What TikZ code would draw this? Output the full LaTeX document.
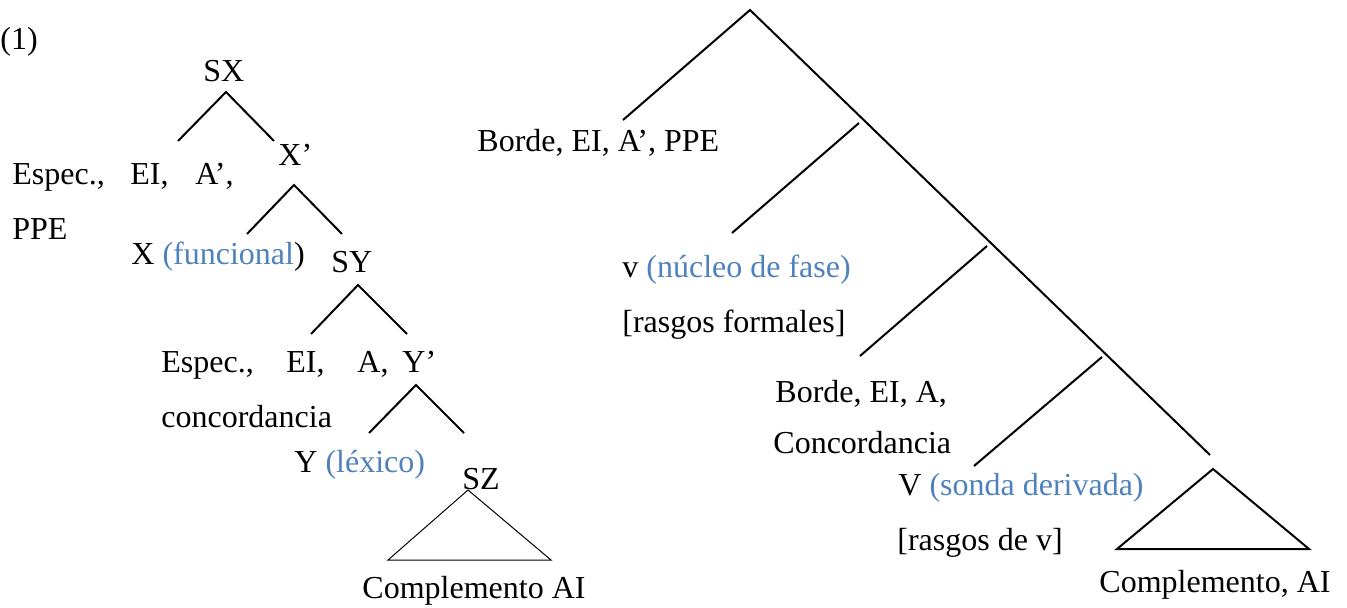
\documentclass[tikz,border=0pt]{standalone}
\usepackage{fontspec}
\setmainfont{Liberation Serif}
\usepackage{xcolor}
\definecolor{nucleo}{RGB}{79,129,189}

\begin{document}
\begin{tikzpicture}[x=0.5pt, y=-0.5pt,
		lbl/.style = {anchor = base west, inner sep = 0pt, font = \fontsize{16}{19}\selectfont},
		rama/.style = {line width = 1pt},
		hoja/.style = {line width = 0.5pt}]
	\useasboundingbox (0,0) rectangle (1347,608);

	\node[lbl] (ej) at (0,50) {(1)};

	% arbol de la izquierda
	\node[lbl] (sx) at (203,82) {SX};
	\node[lbl] (xbar) at (278,166) {X’};
	\node[lbl] (espx) at (12,185) {Espec.,};
	\node[lbl] (eix) at (130,185) {EI,};
	\node[lbl] (ax) at (195,185) {A’,};
	\node[lbl] (ppe) at (12,240) {PPE};
	\node[lbl] (xfun) at (131,265) {X \textcolor{nucleo}{(funcional})};
	\node[lbl] (sy) at (331,273) {SY};
	\node[lbl] (espy) at (161,373) {Espec.,};
	\node[lbl] (eiy) at (286,373) {EI,};
	\node[lbl] (ay) at (357,373) {A,};
	\node[lbl] (ybar) at (402,373) {Y’};
	\node[lbl] (conc) at (161,428) {concordancia};
	\node[lbl] (ylex) at (294,472) {Y \textcolor{nucleo}{(léxico)}};
	\node[lbl] (sz) at (462,489) {SZ};
	\node[lbl] (compl) at (362,598) {Complemento AI};

	\coordinate (sx-t) at (226,92);
	\coordinate (sx-l) at (178,141);
	\coordinate (sx-r) at (274,141);
	\coordinate (xbar-t) at (294,185);
	\coordinate (xbar-l) at (247,234);
	\coordinate (xbar-r) at (342,234);
	\coordinate (sy-t) at (358,285);
	\coordinate (sy-l) at (311,334);
	\coordinate (sy-r) at (407,334);
	\coordinate (ybar-t) at (416,385);
	\coordinate (ybar-l) at (369,433);
	\coordinate (ybar-r) at (464,433);

	\begin{scope}[rama]
		\draw (sx-l) -- (sx-t) -- (sx-r);
		\draw (xbar-l) -- (xbar-t) -- (xbar-r);
		\draw (sy-l) -- (sy-t) -- (sy-r);
		\draw (ybar-l) -- (ybar-t) -- (ybar-r);
	\end{scope}
	\draw[hoja] (468,490) -- (388,560) -- (551,560) -- cycle;

	% arbol de la derecha
	\node[lbl] (borde) at (477,152) {Borde, EI, A’, PPE};
	\node[lbl] (vfase) at (622,278) {v \textcolor{nucleo}{(núcleo de fase)}};
	\node[lbl] (rform) at (622,333) {[rasgos formales]};
	\node[lbl] (bordev) at (775,402) {Borde, EI, A,};
	\node[lbl] (concv) at (773,453) {Concordancia};
	\node[lbl] (vsonda) at (898,495) {V \textcolor{nucleo}{(sonda derivada)}};
	\node[lbl] (rv) at (897,550) {[rasgos de v]};
	\node[lbl] (complv) at (1099,592) {Complemento, AI};

	\coordinate (raiz) at (750,10);
	\coordinate (raiz-l) at (623,120);
	\coordinate (eje) at (1210,455);

	\begin{scope}[rama]
		\draw (raiz-l) -- (raiz) -- (eje);
		\draw (859,123) -- (732,233);
		\draw (987,246) -- (860,356);
		\draw (1102,357) -- (974,466);
		\draw (1213,469) -- (1117,549) -- (1309,549) -- cycle;
	\end{scope}
\end{tikzpicture}
\end{document}
